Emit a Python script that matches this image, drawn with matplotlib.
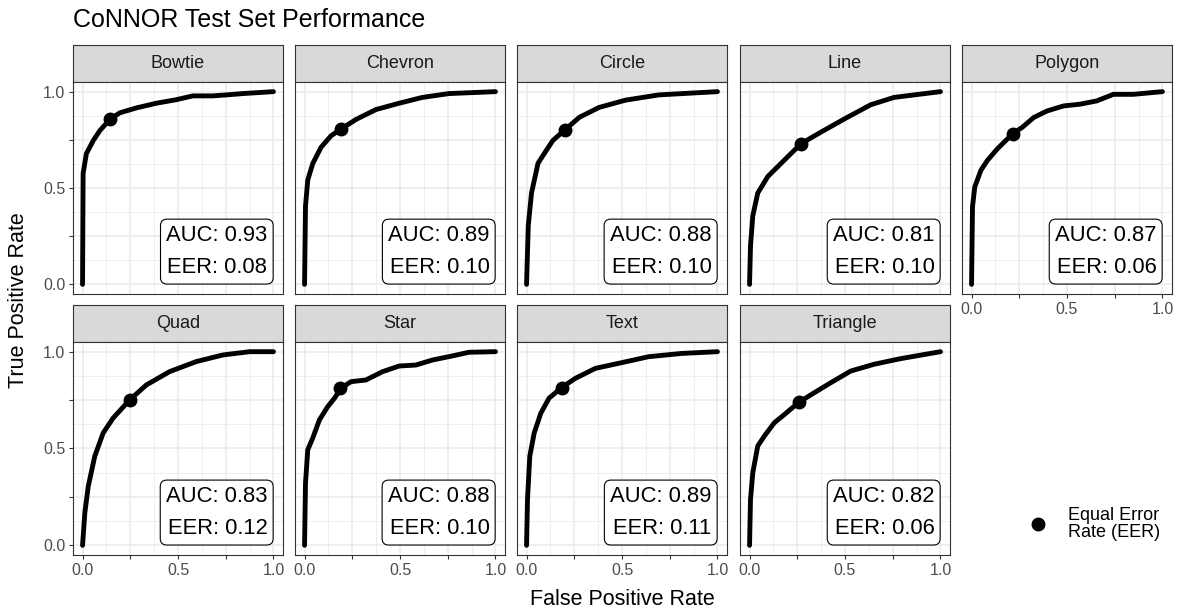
import matplotlib
matplotlib.use("Agg")
import matplotlib.pyplot as plt
from matplotlib.lines import Line2D

plt.rcParams['font.family'] = ['Liberation Sans', 'DejaVu Sans']

# ---------------- data ----------------
categories = ["Bowtie", "Chevron", "Circle", "Line", "Polygon",
              "Quad", "Star", "Text", "Triangle"]
auc_values = [0.93, 0.89, 0.88, 0.81, 0.87, 0.83, 0.88, 0.89, 0.82]
eer_values = [0.08, 0.10, 0.10, 0.10, 0.06, 0.12, 0.10, 0.11, 0.06]
eer_fpr = [0.143, 0.191, 0.199, 0.270, 0.219, 0.247, 0.186, 0.184, 0.261]
eer_tpr = [0.856, 0.805, 0.802, 0.730, 0.780, 0.751, 0.811, 0.815, 0.740]

bowtie_fpr = [0.0, 0.003, 0.02, 0.056, 0.09, 0.143, 0.195, 0.28, 0.387, 0.49, 0.578, 0.683, 0.753, 0.84, 1.0]
bowtie_tpr = [0.0, 0.576, 0.678, 0.746, 0.797, 0.856, 0.89, 0.915, 0.94, 0.958, 0.978, 0.978, 0.983, 0.99, 1.0]

chevron_fpr = [0.0, 0.005, 0.017, 0.043, 0.087, 0.139, 0.19, 0.27, 0.374, 0.496, 0.617, 0.757, 1.0]
chevron_tpr = [0.0, 0.407, 0.542, 0.627, 0.712, 0.771, 0.805, 0.856, 0.907, 0.94, 0.97, 0.99, 1.0]

circle_fpr = [0.0, 0.009, 0.026, 0.06, 0.087, 0.138, 0.199, 0.277, 0.38, 0.519, 0.692, 1.0]
circle_tpr = [0.0, 0.304, 0.474, 0.628, 0.67, 0.747, 0.80, 0.867, 0.918, 0.956, 0.983, 1.0]

line_fpr = [0.0, 0.005, 0.017, 0.043, 0.096, 0.148, 0.209, 0.27, 0.374, 0.496, 0.635, 0.757, 1.0]
line_tpr = [0.0, 0.20, 0.355, 0.474, 0.56, 0.611, 0.671, 0.73, 0.79, 0.858, 0.932, 0.97, 1.0]

polygon_fpr = [0.0, 0.005, 0.017, 0.049, 0.083, 0.135, 0.179, 0.219, 0.266, 0.326, 0.396, 0.483, 0.569, 0.656, 0.743, 0.847, 1.0]
polygon_tpr = [0.0, 0.403, 0.506, 0.592, 0.643, 0.703, 0.746, 0.784, 0.815, 0.866, 0.90, 0.926, 0.935, 0.952, 0.986, 0.986, 1.0]

quad_fpr = [0.0, 0.012, 0.03, 0.064, 0.108, 0.16, 0.247, 0.334, 0.456, 0.596, 0.735, 0.875, 1.0]
quad_tpr = [0.0, 0.168, 0.305, 0.46, 0.58, 0.657, 0.751, 0.828, 0.897, 0.949, 0.983, 1.0, 1.0]

star_fpr = [0.0, 0.005, 0.017, 0.043, 0.078, 0.122, 0.157, 0.191, 0.243, 0.322, 0.409, 0.496, 0.583, 0.67, 0.774, 0.861, 1.0]
star_tpr = [0.0, 0.322, 0.494, 0.554, 0.648, 0.717, 0.76, 0.811, 0.845, 0.854, 0.897, 0.926, 0.931, 0.957, 0.978, 0.997, 1.0]

text_fpr = [0.0, 0.005, 0.017, 0.04, 0.075, 0.118, 0.184, 0.257, 0.361, 0.483, 0.639, 0.813, 1.0]
text_tpr = [0.0, 0.237, 0.46, 0.58, 0.683, 0.76, 0.815, 0.863, 0.914, 0.94, 0.974, 0.991, 1.0]

triangle_fpr = [0.0, 0.005, 0.017, 0.043, 0.078, 0.13, 0.183, 0.26, 0.339, 0.426, 0.53, 0.652, 0.791, 1.0]
triangle_tpr = [0.0, 0.238, 0.375, 0.513, 0.565, 0.633, 0.676, 0.74, 0.788, 0.84, 0.90, 0.935, 0.964, 1.0]

tick_values = [0.0, 0.25, 0.5, 0.75, 1.0]
tick_labels = ["0.0", "", "0.5", "", "1.0"]
minor_values = [0.125, 0.375, 0.625, 0.875]

roc = {
    "Bowtie": (bowtie_fpr, bowtie_tpr),
    "Chevron": (chevron_fpr, chevron_tpr),
    "Circle": (circle_fpr, circle_tpr),
    "Line": (line_fpr, line_tpr),
    "Polygon": (polygon_fpr, polygon_tpr),
    "Quad": (quad_fpr, quad_tpr),
    "Star": (star_fpr, star_tpr),
    "Text": (text_fpr, text_tpr),
    "Triangle": (triangle_fpr, triangle_tpr),
}

# ---------------- layout ----------------
W, H = 1181, 611
fig = plt.figure(figsize=(W / 100, H / 100), dpi=100)


def px_axes(x0, y0, x1, y1):
    return fig.add_axes([x0 / W, 1 - y1 / H, (x1 - x0) / W, (y1 - y0) / H])


col_left = [73, 295, 517, 740, 962]
panel_w = 210
strip_rows = [(45, 82), (305, 342)]
panel_rows = [(82, 294), (342, 555)]

border = "#333333"
for i, cat in enumerate(categories):
    r, c = divmod(i, 5)
    x0 = col_left[c]
    x1 = x0 + panel_w
    # strip
    sax = px_axes(x0, strip_rows[r][0], x1, strip_rows[r][1])
    sax.set_facecolor("#D9D9D9")
    sax.set_xticks([])
    sax.set_yticks([])
    for sp in sax.spines.values():
        sp.set_color(border)
        sp.set_linewidth(0.8)
    sax.text(0.5, 0.5, cat, ha="center", va="center", fontsize=13,
             color="#1A1A1A", transform=sax.transAxes)

    # panel
    ax = px_axes(x0, panel_rows[r][0], x1, panel_rows[r][1])
    ax.set_xlim(-0.05, 1.05)
    ax.set_ylim(-0.05, 1.05)
    ax.set_xticks(tick_values)
    ax.set_yticks(tick_values)
    ax.set_xticks(minor_values, minor=True)
    ax.set_yticks(minor_values, minor=True)
    ax.set_xticklabels(tick_labels)
    ax.set_yticklabels(tick_labels)
    ax.grid(which="major", color="#EBEBEB", linewidth=1.1)
    ax.grid(which="minor", color="#EBEBEB", linewidth=0.55)
    ax.set_axisbelow(True)
    for sp in ax.spines.values():
        sp.set_color(border)
        sp.set_linewidth(0.8)
    ax.tick_params(which="minor", length=0)
    ax.tick_params(which="major", length=3, width=0.8, color=border,
                   labelcolor="#4D4D4D", labelsize=11.5, pad=2.5)
    show_x = (r == 1) or (i == 4)
    show_y = (c == 0)
    ax.tick_params(axis="x", bottom=show_x, labelbottom=show_x)
    ax.tick_params(axis="y", left=show_y, labelleft=show_y)

    fpr, tpr = roc[cat]
    ax.plot(fpr, tpr, color="black", linewidth=3.5,
            solid_capstyle="round", solid_joinstyle="round")
    ax.plot([eer_fpr[i]], [eer_tpr[i]], "o", color="black", markersize=9)

    ax.annotate(f"AUC: {auc_values[i]:.2f}\nEER: {eer_values[i]:.2f}",
                xy=(1.0, 0.0), xycoords="data",
                xytext=(-6, 6), textcoords="offset pixels",
                ha="right", va="bottom", multialignment="right",
                fontsize=15.8, linespacing=1.72, color="black",
                bbox=dict(boxstyle="round,pad=0.26,rounding_size=0.3",
                          fc="white", ec="black", lw=0.8))

# titles
fig.text(73 / W, 1 - 27 / H, "CoNNOR Test Set Performance",
         ha="left", va="baseline", fontsize=18, color="black")
fig.text(622 / W, 1 - 605 / H, "False Positive Rate",
         ha="center", va="baseline", fontsize=15.5, color="black")
fig.text(19 / W, 1 - 300 / H, "True Positive Rate",
         ha="center", va="center", rotation=90, fontsize=15.5, color="black")

# legend
handle = Line2D([], [], linestyle="none", marker="o", color="black", markersize=9)
fig.legend([handle], ["Equal Error\nRate (EER)"],
           loc="center left", bbox_to_anchor=(1029 / W, 1 - 524 / H),
           frameon=False, fontsize=13, handlelength=1.0,
           handletextpad=1.15, borderpad=0, borderaxespad=0,
           labelspacing=0)
leg = fig.legends[0]
for t in leg.get_texts():
    t.set_linespacing(0.95)

fig.savefig("out.png", dpi=100)
